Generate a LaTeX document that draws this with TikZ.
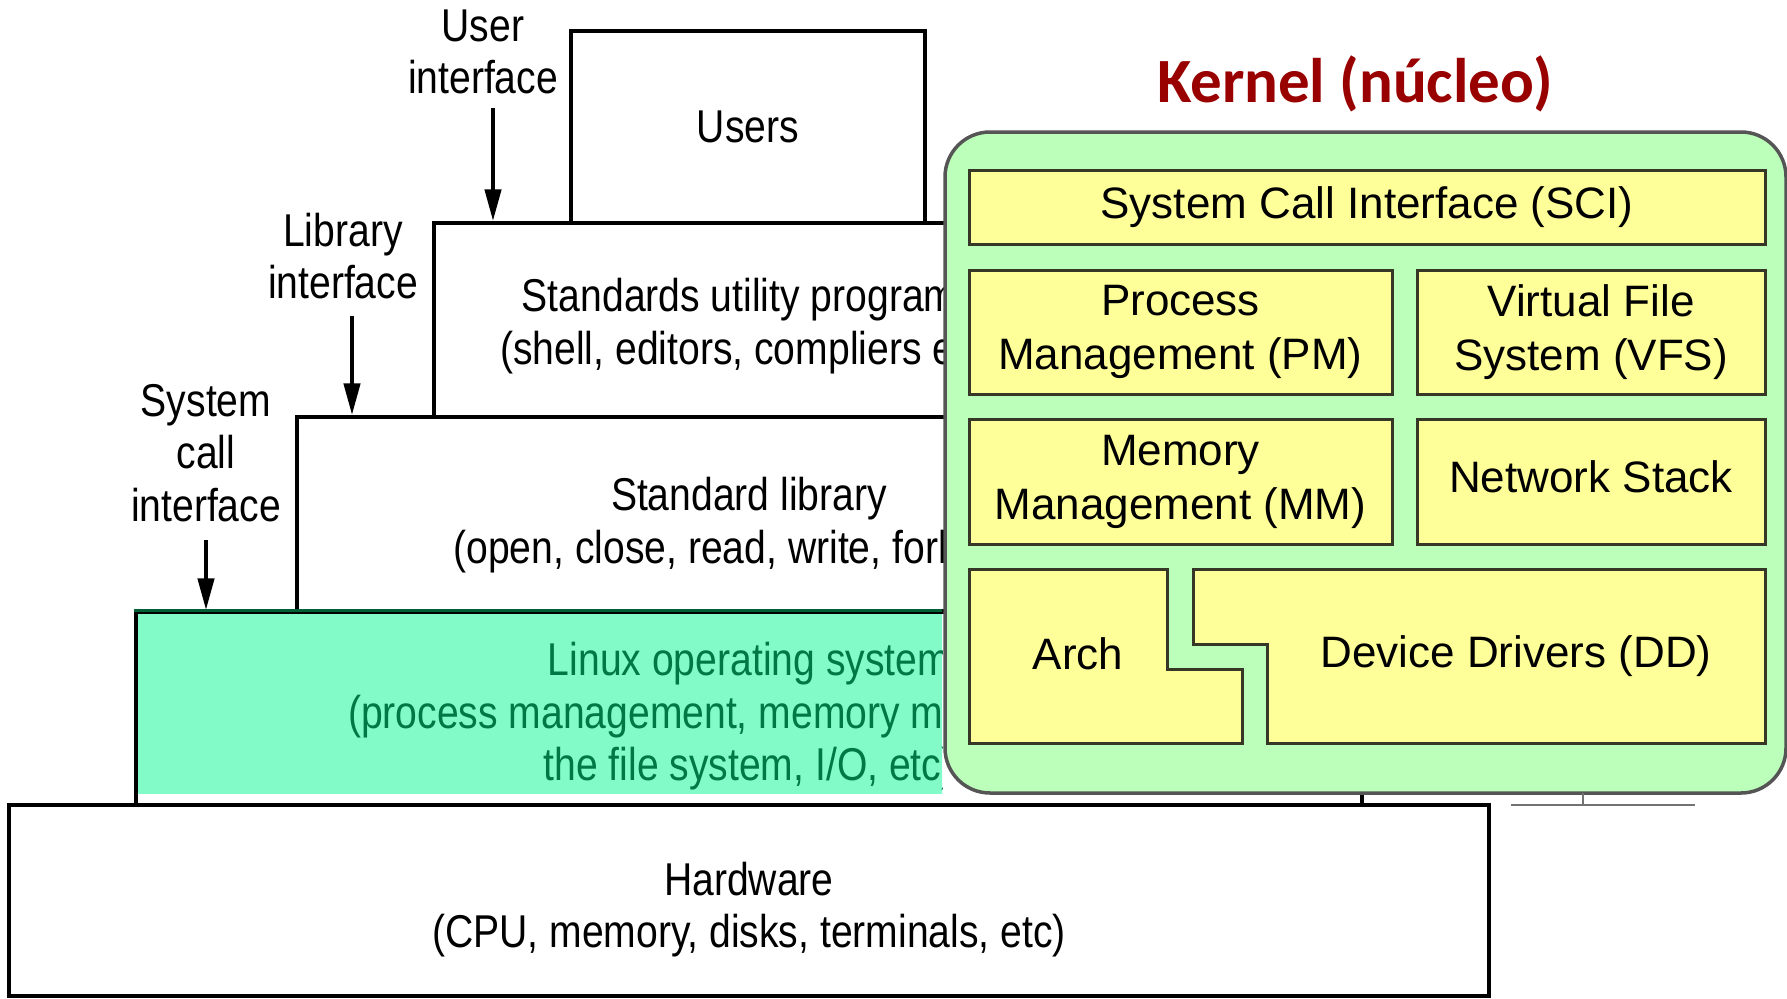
\documentclass[tikz,border=0pt]{standalone}
\usepackage{fontspec}
\setmainfont{Liberation Sans}
\newfontfamily\layerfont{Liberation Sans}[FakeStretch=0.85]
\newfontfamily\titlefont{Carlito}
\usepackage{tikz}
\usetikzlibrary{arrows.meta, positioning}

\definecolor{osfill}{RGB}{130,251,200}
\definecolor{ostext}{RGB}{0,120,70}
\definecolor{osline}{RGB}{0,95,55}
\definecolor{kfill}{RGB}{187,255,187}
\definecolor{kborder}{RGB}{85,85,85}
\definecolor{kyellow}{RGB}{255,255,153}
\definecolor{kline}{RGB}{55,55,40}
\definecolor{ktitle}{RGB}{153,0,0}

\begin{document}
\begin{tikzpicture}[x=1pt, y=-1pt,
    layer/.style={rectangle, draw, line width=3.5pt, inner sep=0pt},
    lbl/.style={align=center, inner sep=0pt, font=\layerfont\fontsize{46}{52.5}\selectfont},
    arr/.style={-{Triangle[length=32pt, width=16pt]}, line width=4.5pt},
    kpanel/.style={rectangle, draw=kborder, fill=kfill, line width=3.5pt, rounded corners=45pt},
    kbox/.style={rectangle, draw=kline, fill=kyellow, line width=3pt, align=center, inner sep=0pt,
        font=\fontsize{44}{54}\selectfont},
    kshape/.style={draw=kline, fill=kyellow, line width=3pt},
    ktext/.style={align=center, inner sep=0pt, font=\fontsize{44}{54}\selectfont},
    ghost/.style={draw=black!55, line width=2pt}
]
    \useasboundingbox (0,0) rectangle (1787,998);

    % the staircase of layers
    \node[layer, line width=4.5pt, minimum width=1480pt, minimum height=191pt] (hw) at (749,900.5) {};
    \node[layer, minimum width=904pt, minimum height=194pt] (lib) at (749,514) {};
    \node[layer, minimum width=630pt, minimum height=194pt] (std) at (749,320) {};
    \node[layer, minimum width=354pt, minimum height=192pt, font=\layerfont\fontsize{46}{52.5}\selectfont]
        (users) at (748,127) {Users};
    \node[layer, minimum width=1226pt, minimum height=193pt] (os) at (749,708.5) {};

    \node[lbl] (hwtxt) at (749,909.5) {Hardware\\(CPU, memory, disks, terminals, etc)};
    \node[lbl] (libtxt) at (749,525) {Standard library\\(open, close, read, write, fork, etc)};
    \node[lbl] (stdtxt) at (749,326) {Standards utility programs\\(shell, editors, compliers etc)};

    \begin{scope}
        \clip (0,0) rectangle (942,998);
        \fill[osfill] (138,614) rectangle (1362,794);
        \draw[osline, line width=3.5pt] (os.north west) -- (os.north east);
        \node[lbl, text=ostext] (ostxt) at (749,716.5)
            {Linux operating system\\(process management, memory management,\\the file system, I/O, etc)};
    \end{scope}

    % interfaces
    \node[lbl] (uilbl) at (483,52) {User\\interface};
    \node[lbl] (lilbl) at (343,256) {Library\\interface};
    \node[lbl] (sclbl) at (206,453) {System\\call\\interface};

    \coordinate (ui0) at (493,108);
    \coordinate (li0) at (352,316);
    \coordinate (sc0) at (206,540);
    \draw[arr] (ui0) -- (ui0 |- std.north);
    \draw[arr] (li0) -- (li0 |- lib.north);
    \draw[arr] (sc0) -- (sc0 |- os.north);

    % kernel
    \node[kpanel, minimum width=841pt, minimum height=661pt] (kernel) at (1365.5,462.5) {};
    \node[anchor=base, inner sep=0pt, text=ktitle, font=\titlefont\bfseries\fontsize{63}{70}\selectfont]
        (ktitle) at (1355,102) {Kernel (núcleo)};

    \node[kbox, minimum width=796pt, minimum height=74pt] (sci) at (1367,207) {System Call Interface (SCI)};
    \node[kbox, minimum width=423pt, minimum height=124pt] (pm) at (1180.5,332) {Process\\Management (PM)};
    \node[kbox, minimum width=348pt, minimum height=124pt] (vfs) at (1591,332) {Virtual File\\System (VFS)};
    \node[kbox, minimum width=423pt, minimum height=125pt] (mm) at (1180.5,481.5) {Memory\\Management (MM)};
    \node[kbox, minimum width=348pt, minimum height=125pt, text depth=10pt] (net) at (1591,481.5) {Network Stack};

    \draw[kshape] (969,569) -- (1167,569) -- (1167,669) -- (1242,669) -- (1242,743) -- (969,743) -- cycle;
    \draw[kshape] (1193,569) -- (1765,569) -- (1765,743) -- (1267,743) -- (1267,644) -- (1193,644) -- cycle;
    \node[ktext] (arch) at (1078,654) {Arch};
    \node[ktext] (dd) at (1516,656.5) {Device Drivers (DD)};

    % leftovers under the kernel picture
    \draw[ghost] (1583,793) -- (1583,805);
    \draw[ghost] (1511,805) -- (1695,805);
\end{tikzpicture}
\end{document}
